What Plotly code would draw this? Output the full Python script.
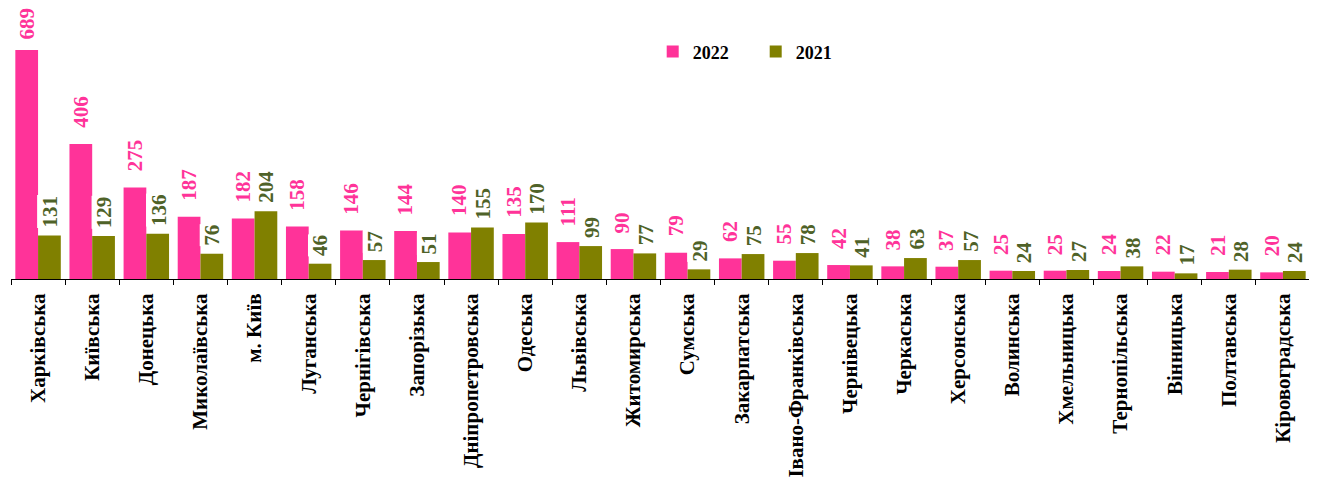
import plotly.graph_objects as go

regions = ["Харківська", "Київська", "Донецька", "Миколаївська", "м. Київ", "Луганська",
           "Чернігівська", "Запорізька", "Дніпропетровська", "Одеська", "Львівська",
           "Житомирська", "Сумська", "Закарпатська", "Івано-Франківська", "Чернівецька",
           "Черкаська", "Херсонська", "Волинська", "Хмельницька", "Тернопільська",
           "Вінницька", "Полтавська", "Кіровоградська"]
values_2022 = [689, 406, 275, 187, 182, 158, 146, 144, 140, 135, 111, 90, 79, 62, 55,
               42, 38, 37, 25, 25, 24, 22, 21, 20]
values_2021 = [131, 129, 136, 76, 204, 46, 57, 51, 155, 170, 99, 77, 29, 75, 78,
               41, 63, 57, 24, 27, 38, 17, 28, 24]

PINK = "#FF3399"
OLIVE = "#808000"
OLIVE_TXT = "#4F6228"
FONT = "Liberation Serif"

fig = go.Figure()
fig.add_trace(go.Bar(name="2022", x=regions, y=values_2022, marker_color=PINK,
                     marker_line_width=0))
fig.add_trace(go.Bar(name="2021", x=regions, y=values_2021, marker_color=OLIVE,
                     marker_line_width=0))

top_value = max(values_2022)
annotations = []
for r, v in zip(regions, values_2022):
    annotations.append(dict(x=r, y=v, xref="x", yref="y", text=f"<b>{v}</b>",
                            showarrow=False, textangle=-90, xshift=-11.5,
                            yshift=8 if v == top_value else 14,
                            yanchor="bottom", xanchor="center",
                            font=dict(family=FONT, size=21, color=PINK)))
for r, v in zip(regions, values_2021):
    annotations.append(dict(x=r, y=v, xref="x", yref="y", text=f"<b>{v}</b>",
                            showarrow=False, textangle=-90, xshift=12, yshift=7,
                            yanchor="bottom", xanchor="center", bgcolor="white",
                            borderpad=0,
                            font=dict(family=FONT, size=21, color=OLIVE_TXT)))

fig.update_layout(
    width=1317, height=479,
    margin=dict(l=3, r=15, t=0, b=208, autoexpand=False),
    paper_bgcolor="white", plot_bgcolor="white",
    barmode="group", bargap=0.16, bargroupgap=0,
    font=dict(family=FONT, size=21, color="black"),
    showlegend=True,
    legend=dict(orientation="h", x=0.494, y=0.838, xanchor="left", yanchor="middle",
                font=dict(family=FONT, size=18, color="black", weight="bold"),
                bgcolor="rgba(0,0,0,0)", entrywidth=58, entrywidthmode="pixels",
                itemwidth=30),
    annotations=annotations,
)
fig.update_xaxes(showline=True, linecolor="black", linewidth=1, ticks="outside",
                 ticklen=5, tickcolor="black", tickson="boundaries", tickangle=-90,
                 ticklabelstandoff=5,
                 tickfont=dict(family=FONT, size=21, color="black", weight="bold"),
                 showgrid=False, automargin=False)
fig.update_yaxes(range=[0, 815], visible=False, showgrid=False, zeroline=False,
                 automargin=False)

fig.write_html("out.html")
